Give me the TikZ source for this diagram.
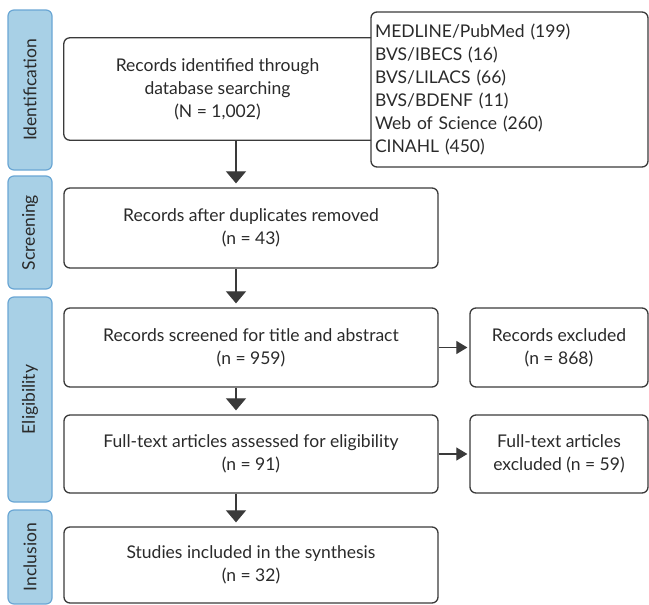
\documentclass[tikz,border=0pt]{standalone}
\usepackage{fontspec}
\setmainfont{Lato}
\usetikzlibrary{arrows.meta}
\definecolor{barfill}{HTML}{A8D0E6}
\definecolor{barline}{HTML}{6AA6D4}
\definecolor{boxline}{HTML}{3A3A3A}
\definecolor{txt}{HTML}{2A2A2A}
\begin{document}
\begin{tikzpicture}[x=1pt,y=-1pt,
  every node/.style={font=\fontsize{17.5}{23}\selectfont, text=txt, inner sep=0pt},
  stagebar/.style={draw=barline, fill=barfill, line width=1.2pt, rounded corners=6pt, minimum width=44pt},
  stagetext/.style={rotate=90, font=\fontsize{17.5}{20}\selectfont, text=txt},
  flowbox/.style={draw=boxline, line width=1.3pt, rounded corners=6pt, align=center},
  vflow/.style={draw=boxline, line width=1.2pt, -{Triangle[width=20pt,length=12pt]}, shorten >=4pt},
  hflow/.style={draw=boxline, line width=1.2pt, -{Triangle[width=13pt,length=11pt]}, shorten >=2pt}
]
\useasboundingbox (0,0) rectangle (649,605);
% stage bars
\node[stagebar, minimum height=160pt] (bid) at (30,90) {};
\node[stagetext] (tid) at (bid.center) {Identification};
\node[stagebar, minimum height=113pt] (bsc) at (30,232.5) {};
\node[stagetext] (tsc) at (bsc.center) {Screening};
\node[stagebar, minimum height=205pt] (bel) at (30,399.5) {};
\node[stagetext] (tel) at (bel.center) {Eligibility};
\node[stagebar, minimum height=94pt] (bin) at (30,557) {};
\node[stagetext] (tin) at (bin.center) {Inclusion};
% identification box (open on right, joined to list box)
\node[align=center, minimum width=307pt, minimum height=102pt] (ident) at (217.5,89) {Records identified through\\database searching\\(N = 1,002)};
\draw[boxline, line width=1.3pt, rounded corners=6pt] (ident.north east) -- (ident.north west) -- (ident.south west) -- (ident.south east);
\node[flowbox, minimum width=277pt, minimum height=155pt, text width=269pt, align=left] (dbs) at (509.5,89.5) {MEDLINE/PubMed (199)\\BVS/IBECS (16)\\BVS/LILACS (66)\\BVS/BDENF (11)\\Web of Science (260)\\CINAHL (450)};
% main column
\node[flowbox, minimum width=374pt, minimum height=80pt] (scr) at (251,228) {Records after duplicates removed\\(n = 43)};
\node[flowbox, minimum width=374pt, minimum height=79pt] (tit) at (251,347.5) {Records screened for title and abstract\\(n = 959)};
\node[flowbox, minimum width=178pt, minimum height=79pt] (ex1) at (559,347.5) {Records excluded\\(n = 868)};
\node[flowbox, minimum width=374pt, minimum height=78pt] (ful) at (251,454) {Full-text articles assessed for eligibility\\(n = 91)};
\node[flowbox, minimum width=178pt, minimum height=78pt] (ex2) at (559,454) {Full-text articles\\excluded (n = 59)};
\node[flowbox, minimum width=374pt, minimum height=76pt] (inc) at (251,565) {Studies included in the synthesis\\(n = 32)};
% connectors
\coordinate (ax) at (236,0);
\draw[vflow] (ident.south -| ax) -- (scr.north -| ax);
\draw[vflow] (scr.south -| ax) -- (tit.north -| ax);
\draw[vflow] (tit.south -| ax) -- (ful.north -| ax);
\draw[vflow] (ful.south -| ax) -- (inc.north -| ax);
\draw[hflow] (tit.east) -- (ex1.west);
\draw[hflow] (ful.east) -- (ex2.west);
\end{tikzpicture}
\end{document}
